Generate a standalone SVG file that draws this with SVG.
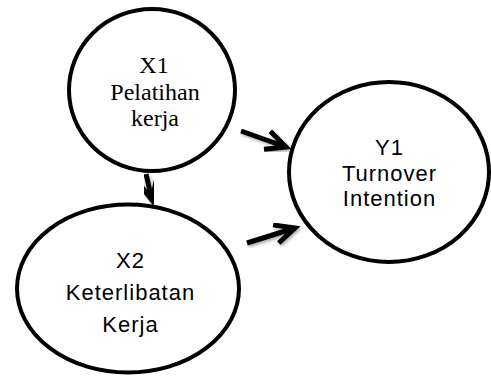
<svg xmlns="http://www.w3.org/2000/svg" width="491" height="376" viewBox="0 0 491 376">
<defs>
<style>
.node{fill:#fff;stroke:#000;stroke-width:4}
.serif{font-family:"Liberation Serif","Times New Roman",serif;font-size:24px;fill:#000;text-anchor:middle}
.sans{font-family:"Liberation Sans",Arial,sans-serif;font-size:22px;letter-spacing:1px;fill:#000;text-anchor:middle}
.edge{fill:none;stroke:#000;stroke-width:5;marker-end:url(#arr);filter:url(#sh)}
</style>
<marker id="arr" markerUnits="userSpaceOnUse" markerWidth="30" markerHeight="30" viewBox="-24 -14 30 28" refX="0" refY="0" orient="auto">
<path d="M-20,-9.5 L0,0 L-20,9.5" fill="none" stroke="#000" stroke-width="5" stroke-linejoin="miter" stroke-linecap="butt"/>
</marker>
<filter id="sh" x="-30%" y="-30%" width="160%" height="160%">
<feDropShadow dx="1.5" dy="2" stdDeviation="1.5" flood-color="#000" flood-opacity="0.3"/>
</filter>
</defs>
<g id="connectors">
<path class="edge" d="M241,131 L286,147"/>
<path class="edge" d="M247,243 L295,228"/>
<path class="edge" d="M146,174 L152,200"/>
</g>
<g id="X1">
<ellipse class="node" cx="152" cy="90" rx="83" ry="81"/>
<text class="serif" x="154" y="73">X1</text>
<text class="serif" x="155" y="100">Pelatihan</text>
<text class="serif" x="155" y="126">kerja</text>
</g>
<g id="Y1">
<ellipse class="node" cx="389" cy="172" rx="100" ry="90"/>
<text class="sans" x="389.5" y="155">Y1</text>
<text class="sans" x="389.5" y="180.5">Turnover</text>
<text class="sans" x="389.5" y="206">Intention</text>
</g>
<g id="X2">
<ellipse class="node" cx="128" cy="288.5" rx="111" ry="84"/>
<text class="sans" x="130.5" y="268">X2</text>
<text class="sans" x="130.5" y="300">Keterlibatan</text>
<text class="sans" x="130.5" y="332">Kerja</text>
</g>
</svg>
